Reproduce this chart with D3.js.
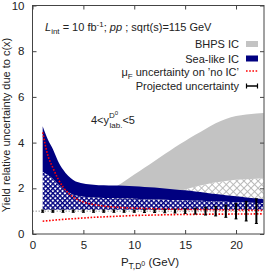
<!DOCTYPE html>
<html>
<head>
<meta charset="utf-8">
<script src="https://cdn.jsdelivr.net/npm/d3@7/dist/d3.min.js"></script>
<style>
  body { margin: 0; background: #fff; }
  text { font-family: "Liberation Sans", Arial, sans-serif; fill: #222; }
</style>
</head>
<body>
<div id="chart"></div>
<script>
var width = 266;
var height = 271;

// pT grid used for the bands (GeV)
var ptGrid = [1, 1.5, 2, 2.5, 3, 4, 5, 6, 7, 8, 9, 10, 11, 12, 13, 14, 15, 16, 17, 18, 19, 20, 21, 22, 22.7];
// Sea-like IC: solid part seaMid..seaTop, hatched part seaLow..seaMid
var seaTop = [4.72, 4.15, 3.72, 3.2, 2.82, 2.36, 2.21, 2.16, 2.13, 2.12, 2.11, 2.09, 2.06, 2.03, 1.99, 1.95, 1.91, 1.86, 1.81, 1.75, 1.70, 1.65, 1.60, 1.55, 1.52];
var seaMid = [2.71, 2.58, 2.42, 2.2, 1.99, 1.72, 1.63, 1.6, 1.58, 1.57, 1.55, 1.54, 1.52, 1.51, 1.5, 1.48, 1.47, 1.45, 1.44, 1.42, 1.41, 1.39, 1.38, 1.36, 1.35];
var seaLow = [1.06, 1.06, 1.06, 1.06, 1.06, 1.06, 1.06, 1.06, 1.06, 1.06, 1.06, 1.06, 1.06, 1.06, 1.06, 1.06, 1.06, 1.06, 1.06, 1.06, 1.06, 1.06, 1.06, 1.06, 1.06];
// BHPS IC
var bhpsTop = [1.2, 1.25, 1.3, 1.35, 1.4, 1.5, 1.6, 1.7, 1.84, 2.02, 2.3, 2.6, 2.9, 3.2, 3.5, 3.8, 4.07, 4.34, 4.6, 4.85, 5.03, 5.16, 5.23, 5.27, 5.29];
var bhpsMid = [1.05, 1.06, 1.07, 1.08, 1.1, 1.13, 1.17, 1.22, 1.28, 1.34, 1.42, 1.5, 1.6, 1.68, 1.76, 1.85, 1.95, 2.07, 2.17, 2.26, 2.32, 2.37, 2.4, 2.42, 2.43];
var bhpsLow = [1.06, 1.06, 1.06, 1.06, 1.06, 1.06, 1.06, 1.06, 1.06, 1.06, 1.06, 1.06, 1.06, 1.06, 1.06, 1.06, 1.06, 1.06, 1.06, 1.06, 1.06, 1.06, 1.06, 1.06, 1.06];
// mu_F uncertainty on 'no IC'
var muFUp = [4.45, 3.45, 2.9, 2.42, 2.06, 1.62, 1.40, 1.29, 1.22, 1.18, 1.15, 1.13, 1.115, 1.1, 1.09, 1.08, 1.075, 1.07, 1.065, 1.06, 1.055, 1.05, 1.045, 1.04, 1.04];
var muFDown = [0.56, 0.58, 0.6, 0.62, 0.64, 0.67, 0.7, 0.73, 0.75, 0.77, 0.79, 0.81, 0.82, 0.83, 0.84, 0.85, 0.855, 0.86, 0.865, 0.87, 0.87, 0.875, 0.875, 0.88, 0.88];
// projected uncertainty
var projPt = [1, 2, 3, 4, 5, 6, 7, 8, 9, 10, 11, 12, 13, 14, 15, 16, 17, 18, 19, 20, 21, 22];
var projErr = [0.05, 0.05, 0.05, 0.05, 0.05, 0.05, 0.05, 0.05, 0.05, 0.05, 0.06, 0.06, 0.07, 0.08, 0.1, 0.13, 0.17, 0.21, 0.27, 0.34, 0.43, 0.54];

var xTicks = [0, 5, 10, 15, 20];
var yTicks = [0, 2, 4, 6, 8, 10];
var legendLabels = ['BHPS IC', 'Sea-like IC', 'mu', 'Projected uncertainty'];

var navy = '#000080';
var gray = '#c3c3c3';

var x = d3.scaleLinear().domain([0, 22.75]).range([32.5, 264]);
var y = d3.scaleLinear().domain([0, 10]).range([234, 5.5]);

var svg = d3.select('#chart').append('svg')
    .attr('width', width)
    .attr('height', height);

var defs = svg.append('defs');
var seaHatch = defs.append('pattern')
    .attr('id', 'seaHatch')
    .attr('patternUnits', 'userSpaceOnUse')
    .attr('width', 3.4).attr('height', 3.4)
    .attr('patternTransform', 'rotate(45)');
seaHatch.append('rect').attr('width', 3.4).attr('height', 3.4).attr('fill', '#fff');
seaHatch.append('rect').attr('width', 3.4).attr('height', 1.4).attr('fill', navy);
seaHatch.append('rect').attr('width', 1.4).attr('height', 3.4).attr('fill', navy);

var bhpsHatch = defs.append('pattern')
    .attr('id', 'bhpsHatch')
    .attr('patternUnits', 'userSpaceOnUse')
    .attr('width', 5).attr('height', 5)
    .attr('patternTransform', 'rotate(45)');
bhpsHatch.append('rect').attr('width', 5).attr('height', 5).attr('fill', '#fff');
bhpsHatch.append('rect').attr('width', 5).attr('height', 0.9).attr('fill', '#b5b5b5');
bhpsHatch.append('rect').attr('width', 0.9).attr('height', 5).attr('fill', '#b5b5b5');

defs.append('clipPath').attr('id', 'plotClip')
    .append('rect')
    .attr('x', x(0)).attr('y', y(10))
    .attr('width', x(22.75) - x(0)).attr('height', y(0) - y(10));

var plot = svg.append('g').attr('clip-path', 'url(#plotClip)');

function band(lo, hi) {
  return d3.area()
    .x(function(d, i) { return x(ptGrid[i]); })
    .y0(function(d, i) { return y(lo[i]); })
    .y1(function(d, i) { return y(hi[i]); })
    .curve(d3.curveMonotoneX)(ptGrid);
}

// reference line at 1
plot.append('line')
    .attr('x1', x(0)).attr('x2', x(22.75))
    .attr('y1', y(1)).attr('y2', y(1))
    .attr('stroke', '#999')
    .attr('stroke-width', 1)
    .attr('stroke-dasharray', '1.5,1.5');

plot.append('path').attr('d', band(bhpsLow, bhpsMid)).attr('fill', 'url(#bhpsHatch)');
plot.append('path').attr('d', band(bhpsMid, bhpsTop)).attr('fill', gray);
plot.append('path').attr('d', band(seaMid, seaTop)).attr('fill', navy);
plot.append('path').attr('d', band(seaLow, seaMid)).attr('fill', 'url(#seaHatch)');

var line = d3.line()
    .x(function(d, i) { return x(ptGrid[i]); })
    .y(function(d) { return y(d); })
    .curve(d3.curveMonotoneX);

[muFUp, muFDown].forEach(function(s) {
  plot.append('path')
      .attr('d', line(s))
      .attr('fill', 'none')
      .attr('stroke', '#ff0000')
      .attr('stroke-width', 1.6)
      .attr('stroke-dasharray', '1.6,1.6');
});

// projected uncertainty error bars
var bars = plot.selectAll('.bar')
    .data(projPt)
    .enter()
    .append('g')
    .attr('class', 'bar');
bars.append('line')
    .attr('x1', function(d) { return x(d); })
    .attr('x2', function(d) { return x(d); })
    .attr('y1', function(d, i) { return y(1 - projErr[i]); })
    .attr('y2', function(d, i) { return y(1 + projErr[i]); })
    .attr('stroke', '#000')
    .attr('stroke-width', 2);
bars.append('line')
    .attr('x1', function(d) { return x(d) - 1.5; })
    .attr('x2', function(d) { return x(d) + 1.5; })
    .attr('y1', function(d, i) { return y(1 - projErr[i]); })
    .attr('y2', function(d, i) { return y(1 - projErr[i]); })
    .attr('stroke', '#000')
    .attr('stroke-width', 1);
bars.append('line')
    .attr('x1', function(d) { return x(d) - 1.5; })
    .attr('x2', function(d) { return x(d) + 1.5; })
    .attr('y1', function(d, i) { return y(1 + projErr[i]); })
    .attr('y2', function(d, i) { return y(1 + projErr[i]); })
    .attr('stroke', '#000')
    .attr('stroke-width', 1);

// axes
var axisColor = '#444';
function styleAxis(g) {
  g.select('.domain').remove();
  g.selectAll('.tick line').attr('stroke', axisColor);
  g.selectAll('.tick text')
    .attr('fill', '#222')
    .style('font-size', '11.5px')
    .style('font-family', '"Liberation Sans", Arial, sans-serif');
}
svg.append('g')
    .attr('transform', 'translate(0,' + y(0) + ')')
    .call(d3.axisBottom(x).tickValues(xTicks).tickSizeInner(-4).tickSizeOuter(0).tickPadding(7))
    .call(styleAxis);
svg.append('g')
    .attr('transform', 'translate(0,' + y(10) + ')')
    .call(d3.axisTop(x).tickValues(xTicks).tickSizeInner(-4).tickSizeOuter(0).tickFormat(''))
    .call(styleAxis);
svg.append('g')
    .attr('transform', 'translate(' + x(0) + ',0)')
    .call(d3.axisLeft(y).tickValues(yTicks).tickSizeInner(-4).tickSizeOuter(0).tickPadding(8))
    .call(styleAxis);
svg.append('g')
    .attr('transform', 'translate(' + x(22.75) + ',0)')
    .call(d3.axisRight(y).tickValues(yTicks).tickSizeInner(-4).tickSizeOuter(0).tickFormat(''))
    .call(styleAxis);

svg.append('rect')
    .attr('x', x(0)).attr('y', y(10))
    .attr('width', x(22.75) - x(0)).attr('height', y(0) - y(10))
    .attr('fill', 'none')
    .attr('stroke', axisColor)
    .attr('stroke-width', 1);

// axis titles
var xt = svg.append('text')
    .attr('x', 150).attr('y', 266)
    .attr('text-anchor', 'middle')
    .style('font-size', '11.5px');
xt.append('tspan').text('P');
xt.append('tspan').attr('dy', 3).style('font-size', '8.5px').text('T,D');
xt.append('tspan').attr('dy', -3).style('font-size', '7px').text('0');
xt.append('tspan').attr('dy', 0).text(' (GeV)');

svg.append('text')
    .attr('transform', 'translate(10,125) rotate(-90)')
    .attr('text-anchor', 'middle')
    .style('font-size', '11px')
    .text('Yield relative uncertainty due to c(x)');

// annotation
var t1 = svg.append('text')
    .attr('x', 45).attr('y', 31)
    .style('font-size', '11px');
t1.append('tspan').style('font-style', 'italic').text('L');
t1.append('tspan').attr('dy', 3).style('font-size', '8px').text('int');
t1.append('tspan').attr('dy', -3).text(' = 10 fb');
t1.append('tspan').attr('dy', -4).style('font-size', '8px').text('-1');
t1.append('tspan').attr('dy', 4).text(';  ');
t1.append('tspan').style('font-style', 'italic').text('pp');
t1.append('tspan').text(' ; sqrt(s)=115 GeV');

var t2 = svg.append('text')
    .attr('x', 91).attr('y', 124)
    .style('font-size', '11px');
t2.append('tspan').text('4<y');
t2.append('tspan').attr('dy', -6).style('font-size', '8px').text('D');
t2.append('tspan').attr('dy', -3).style('font-size', '6px').text('0');
t2.append('tspan').attr('x', 109.5).attr('dy', 13).style('font-size', '8px').text('lab.');
t2.append('tspan').attr('dy', -4).text('<5');

// legend
var legY = [44, 58.5, 72, 86];
var lx = 239;
var lg = svg.append('g');
lg.append('text').attr('x', lx).attr('y', legY[0] + 4).attr('text-anchor', 'end').style('font-size', '11px').text(legendLabels[0]);
lg.append('text').attr('x', lx).attr('y', legY[1] + 4).attr('text-anchor', 'end').style('font-size', '11px').text(legendLabels[1]);
var mu = lg.append('text').attr('x', lx).attr('y', legY[2] + 4).attr('text-anchor', 'end').style('font-size', '11px');
mu.append('tspan').text('\u03bc');
mu.append('tspan').attr('dy', 3).style('font-size', '8px').text('F');
mu.append('tspan').attr('dy', -3).text(' uncertainty on \u2019no IC\u2019');
lg.append('text').attr('x', lx).attr('y', legY[3] + 4).attr('text-anchor', 'end').style('font-size', '11px').text(legendLabels[3]);

lg.append('rect').attr('x', 246).attr('y', legY[0] - 3).attr('width', 12).attr('height', 6).attr('fill', gray);
lg.append('rect').attr('x', 246).attr('y', legY[1] - 3).attr('width', 12).attr('height', 6).attr('fill', navy);
lg.append('line').attr('x1', 246).attr('x2', 258).attr('y1', legY[2] - 1).attr('y2', legY[2] - 1)
    .attr('stroke', '#ff0000').attr('stroke-width', 1.6).attr('stroke-dasharray', '1.6,1.6');
lg.append('line').attr('x1', 246).attr('x2', 258).attr('y1', legY[3]).attr('y2', legY[3])
    .attr('stroke', '#000').attr('stroke-width', 1.5);
lg.append('line').attr('x1', 246.5).attr('x2', 246.5).attr('y1', legY[3] - 2.5).attr('y2', legY[3] + 2.5)
    .attr('stroke', '#000').attr('stroke-width', 1.2);
lg.append('line').attr('x1', 257.5).attr('x2', 257.5).attr('y1', legY[3] - 2.5).attr('y2', legY[3] + 2.5)
    .attr('stroke', '#000').attr('stroke-width', 1.2);
</script>
</body>
</html>
